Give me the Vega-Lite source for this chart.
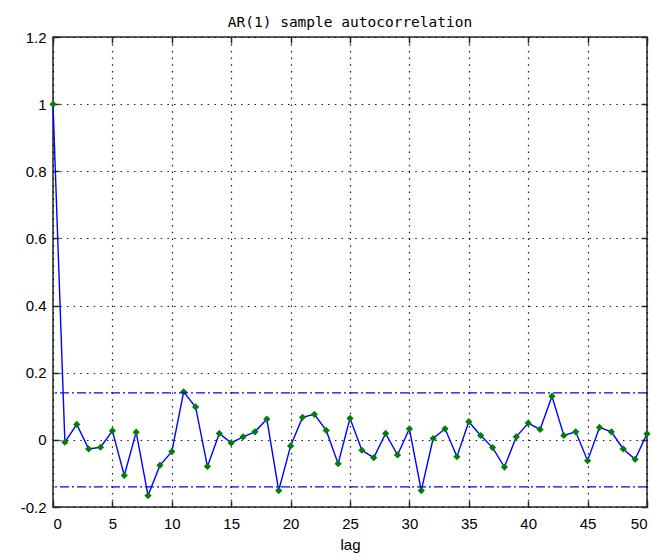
{
  "$schema": "https://vega.github.io/schema/vega-lite/v6.json",
  "width": 594,
  "height": 470,
  "autosize": "none",
  "padding": {"left": 53, "top": 37, "right": 7, "bottom": 49},
  "background": "white",
  "title": {
    "text": "AR(1) sample autocorrelation",
    "font": "DejaVu Sans Mono",
    "fontSize": 14.5,
    "fontWeight": "normal",
    "color": "#000000",
    "anchor": "middle",
    "baseline": "alphabetic",
    "offset": -11
  },
  "config": {
    "view": {"stroke": "#262626", "strokeWidth": 1.5},
    "axis": {
      "domain": false,
      "tickSize": -6,
      "tickColor": "#262626",
      "tickWidth": 1.5,
      "labelFont": "Liberation Sans",
      "labelFontSize": 15,
      "labelColor": "#000000",
      "titleFont": "Liberation Sans",
      "titleFontSize": 15,
      "titleFontWeight": "normal",
      "titleColor": "#000000",
      "gridColor": "#000000",
      "gridDash": [1.5, 5.2],
      "gridWidth": 1.2,
      "gridOpacity": 0.9
    }
  },
  "datasets": {
    "acf": [
      {"lag": 0, "acf": 1},
      {"lag": 1, "acf": -0.007},
      {"lag": 2, "acf": 0.046},
      {"lag": 3, "acf": -0.027},
      {"lag": 4, "acf": -0.022},
      {"lag": 5, "acf": 0.027},
      {"lag": 6, "acf": -0.106},
      {"lag": 7, "acf": 0.023},
      {"lag": 8, "acf": -0.166},
      {"lag": 9, "acf": -0.076},
      {"lag": 10, "acf": -0.035},
      {"lag": 11, "acf": 0.143},
      {"lag": 12, "acf": 0.098},
      {"lag": 13, "acf": -0.079},
      {"lag": 14, "acf": 0.019},
      {"lag": 15, "acf": -0.009},
      {"lag": 16, "acf": 0.009},
      {"lag": 17, "acf": 0.024},
      {"lag": 18, "acf": 0.062},
      {"lag": 19, "acf": -0.151},
      {"lag": 20, "acf": -0.018},
      {"lag": 21, "acf": 0.067},
      {"lag": 22, "acf": 0.076},
      {"lag": 23, "acf": 0.028},
      {"lag": 24, "acf": -0.071},
      {"lag": 25, "acf": 0.064},
      {"lag": 26, "acf": -0.031},
      {"lag": 27, "acf": -0.053},
      {"lag": 28, "acf": 0.019},
      {"lag": 29, "acf": -0.045},
      {"lag": 30, "acf": 0.033},
      {"lag": 31, "acf": -0.151},
      {"lag": 32, "acf": 0.004},
      {"lag": 33, "acf": 0.033},
      {"lag": 34, "acf": -0.05},
      {"lag": 35, "acf": 0.054},
      {"lag": 36, "acf": 0.013},
      {"lag": 37, "acf": -0.023},
      {"lag": 38, "acf": -0.081},
      {"lag": 39, "acf": 0.009},
      {"lag": 40, "acf": 0.05},
      {"lag": 41, "acf": 0.031},
      {"lag": 42, "acf": 0.13},
      {"lag": 43, "acf": 0.013},
      {"lag": 44, "acf": 0.024},
      {"lag": 45, "acf": -0.062},
      {"lag": 46, "acf": 0.037},
      {"lag": 47, "acf": 0.024},
      {"lag": 48, "acf": -0.027},
      {"lag": 49, "acf": -0.058},
      {"lag": 50, "acf": 0.018}
    ],
    "bounds": [
      {"bound": 0.14},
      {"bound": -0.14}
    ]
  },
  "layer": [
    {
      "data": {"name": "acf"},
      "mark": {"type": "line", "color": "#0000ff", "strokeWidth": 1.4, "clip": false},
      "encoding": {
        "x": {
          "field": "lag",
          "type": "quantitative",
          "scale": {"domain": [0, 50], "nice": false, "zero": false},
          "axis": {
            "orient": "bottom",
            "title": "lag",
            "values": [0, 5, 10, 15, 20, 25, 30, 35, 40, 45, 50],
            "labelPadding": 15,
            "titlePadding": 6,
            "grid": true
          }
        },
        "y": {
          "field": "acf",
          "type": "quantitative",
          "scale": {"domain": [-0.2, 1.2], "nice": false, "zero": false},
          "axis": {
            "orient": "left",
            "title": null,
            "values": [-0.2, 0, 0.2, 0.4, 0.6, 0.8, 1, 1.2],
            "labelExpr": "'' + datum.value",
            "labelPadding": 13,
            "grid": true
          }
        }
      }
    },
    {
      "data": {"name": "acf"},
      "mark": {"type": "point", "shape": "diamond", "filled": true, "color": "#008000", "size": 52, "opacity": 1},
      "encoding": {
        "x": {
          "field": "lag",
          "type": "quantitative",
          "axis": {
            "orient": "top",
            "title": null,
            "labels": false,
            "grid": false,
            "values": [0, 5, 10, 15, 20, 25, 30, 35, 40, 45, 50]
          }
        },
        "y": {
          "field": "acf",
          "type": "quantitative",
          "axis": {
            "orient": "right",
            "title": null,
            "labels": false,
            "grid": false,
            "values": [-0.2, 0, 0.2, 0.4, 0.6, 0.8, 1, 1.2]
          }
        }
      }
    },
    {
      "data": {"name": "bounds"},
      "mark": {"type": "rule", "color": "#0000ff", "strokeWidth": 1.4, "strokeDash": [9, 3, 2, 3]},
      "encoding": {
        "y": {"field": "bound", "type": "quantitative", "axis": null}
      }
    }
  ],
  "resolve": {"axis": {"x": "independent", "y": "independent"}}
}
